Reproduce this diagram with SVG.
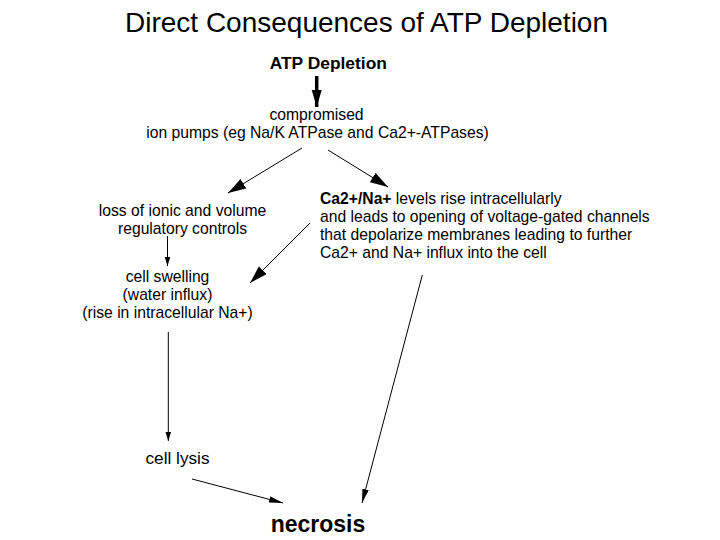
<svg xmlns="http://www.w3.org/2000/svg" width="720" height="540" viewBox="0 0 720 540">
<style>
text{font-family:"Liberation Sans",Arial,sans-serif;fill:#000}
.t{font-size:15.7px}
.c{text-anchor:middle}
.ln{stroke:#000;stroke-width:1;fill:none}
</style>
<defs>
<marker id="big" markerUnits="userSpaceOnUse" markerWidth="19" markerHeight="12" refX="18" refY="5.5" orient="auto"><path d="M0,0 L18,5.5 L0,11 z" fill="#000"/></marker>
<marker id="thick" markerUnits="userSpaceOnUse" markerWidth="18" markerHeight="11" refX="17" refY="5" orient="auto"><path d="M0,0 L17,5 L0,10 z" fill="#000"/></marker>
<marker id="small" markerUnits="userSpaceOnUse" markerWidth="10" markerHeight="6" refX="9" refY="2.75" orient="auto"><path d="M0,0 L9,2.75 L0,5.5 z" fill="#000"/></marker>
<marker id="mid" markerUnits="userSpaceOnUse" markerWidth="15" markerHeight="7" refX="14" refY="3.25" orient="auto"><path d="M0,0 L14,3.25 L0,6.5 z" fill="#000"/></marker>
</defs>
<rect width="720" height="540" fill="#fff"/>
<text x="366.5" y="31.5" class="c" font-size="28">Direct Consequences of ATP Depletion</text>
<g id="atp"><text x="328.3" y="69" class="c" font-size="17.4" font-weight="bold">ATP Depletion</text></g>
<g id="pumps">
<text x="316.5" y="120" class="t c">compromised</text>
<text x="317.5" y="138" class="t c">ion pumps (eg Na/K ATPase and Ca2+-ATPases)</text>
</g>
<g id="loss">
<text x="182.5" y="216" class="t c">loss of ionic and volume</text>
<text x="182.5" y="234" class="t c">regulatory controls</text>
</g>
<g id="ca">
<text x="320" y="204" class="t"><tspan font-weight="bold">Ca2+/Na+</tspan> levels rise intracellularly</text>
<text x="320" y="222" class="t">and leads to opening of voltage-gated channels</text>
<text x="320" y="240" class="t">that depolarize membranes leading to further</text>
<text x="320" y="258" class="t">Ca2+ and Na+ influx into the cell</text>
</g>
<g id="swelling">
<text x="167.5" y="282" class="t c">cell swelling</text>
<text x="167.5" y="300" class="t c">(water influx)</text>
<text x="167.5" y="318" class="t c">(rise in intracellular Na+)</text>
</g>
<g id="lysis"><text x="145.5" y="464" font-size="17.2">cell lysis</text></g>
<g id="necrosis"><text x="318" y="532" class="c" font-size="23" font-weight="bold">necrosis</text></g>
<g id="connectors">
<line x1="316.7" y1="76" x2="316.7" y2="107" stroke="#000" stroke-width="3.5" marker-end="url(#thick)"/>
<line class="ln" x1="302" y1="148" x2="228" y2="193" marker-end="url(#big)"/>
<line class="ln" x1="328" y1="150" x2="388" y2="187" marker-end="url(#big)"/>
<line class="ln" x1="167.5" y1="236" x2="167.5" y2="266" marker-end="url(#small)"/>
<line class="ln" x1="310" y1="223" x2="250" y2="283" marker-end="url(#big)"/>
<line class="ln" x1="168.3" y1="332" x2="168.3" y2="441" marker-end="url(#small)"/>
<line class="ln" x1="192" y1="479" x2="283" y2="503" marker-end="url(#mid)"/>
<line class="ln" x1="422.3" y1="275" x2="362" y2="503" marker-end="url(#mid)"/>
</g>
</svg>
